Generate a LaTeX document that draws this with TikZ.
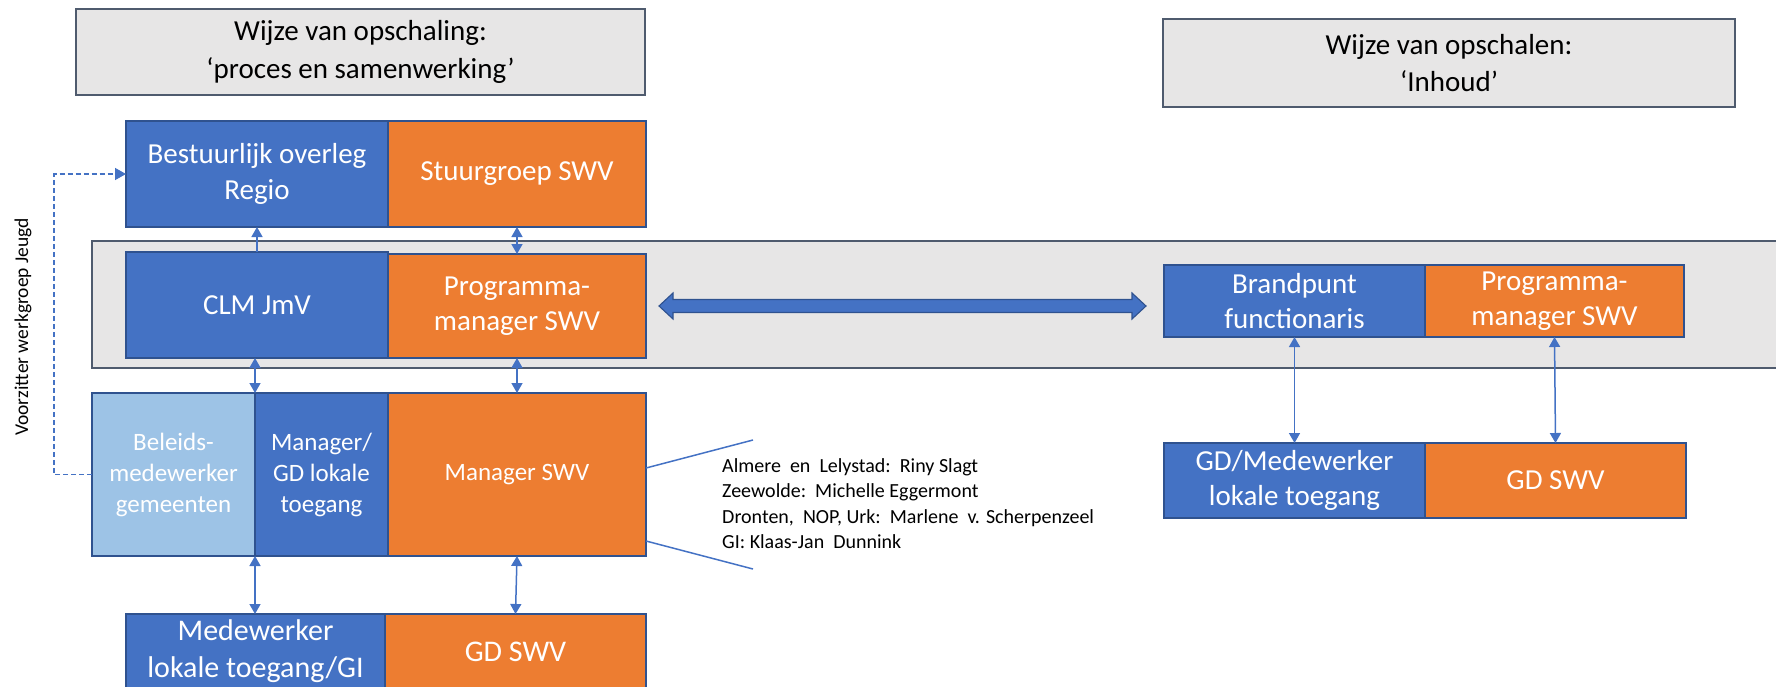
\documentclass[tikz,border=0pt]{standalone}
\usepackage{fontspec}
\setmainfont{Carlito}
\usetikzlibrary{arrows.meta,calc}
\definecolor{blu}{HTML}{4472C4}
\definecolor{org}{HTML}{ED7D31}
\definecolor{lbl}{HTML}{9DC3E6}
\definecolor{bord}{HTML}{2F528F}
\definecolor{gfill}{HTML}{E7E6E6}
\definecolor{slate}{HTML}{4F5B6E}
\begin{document}
\begin{tikzpicture}[x=1pt,y=-1pt,
  bx/.style={draw=bord, line width=1.3pt, text=white, align=center, inner sep=0pt, outer sep=0pt, anchor=north west},
  fbig/.style={font=\fontsize{29}{35.5}\selectfont},
  fmid/.style={font=\fontsize{25}{31}\selectfont},
  ttl/.style={draw=slate, fill=gfill, line width=1.3pt, text=black, align=center, inner sep=0pt, outer sep=0pt, anchor=north west},
  conn/.style={draw=blu, line width=1.5pt, {Triangle[length=10pt,width=11pt]}-{Triangle[length=10pt,width=11pt]}},
  conn1/.style={draw=blu, line width=1.5pt, -{Triangle[length=10pt,width=11pt]}},
  dashconn/.style={draw=blu, line width=1.4pt, dash pattern=on 5pt off 3pt, -{Triangle[length=11pt,width=12pt]}},
  callout/.style={draw=blu, line width=1.5pt},
  names/.style={anchor=base west, inner sep=0pt, text=black, font=\fontsize{20}{25}\selectfont}
]
\useasboundingbox (0,0) rectangle (1776,686);
\clip (0,0) rectangle (1776,686);

% titles
\node[ttl, minimum width=569, minimum height=86, font=\fontsize{29}{38}\selectfont] (tL) at (76,9) {Wijze van opschaling:\\‘proces en samenwerking’};
\node[ttl, minimum width=572, minimum height=88, font=\fontsize{29}{37}\selectfont] (tR) at (1163,19) {Wijze van opschalen:\\‘Inhoud’};

% grey band
\node[draw=slate, fill=gfill, line width=1.3pt, anchor=north west, minimum width=1720, minimum height=127, inner sep=0pt, outer sep=0pt] (band) at (92,241) {};

% top row
\node[bx, fbig, fill=blu, minimum width=262, minimum height=106] (Best) at (126,121) {Bestuurlijk overleg\\Regio};
\node[bx, fbig, fill=org, minimum width=258, minimum height=106] (Stuur) at (388,121) {Stuurgroep SWV};

% band row left
\node[bx, fbig, fill=blu, minimum width=262, minimum height=106] (CLM) at (126,252) {CLM JmV};
\node[bx, fbig, fill=org, minimum width=258, minimum height=104] (ProgL) at (388,254) {Programma-\\manager SWV};

% lower row left
\node[bx, fmid, fill=lbl, minimum width=163, minimum height=163] (Bel) at (92,393) {Beleids-\\medewerker\\gemeenten};
\node[bx, fmid, fill=blu, minimum width=133, minimum height=163] (MgrGD) at (255,393) {Manager/\\GD lokale\\toegang};
\node[bx, fmid, fill=org, minimum width=258, minimum height=163] (MgrSWV) at (388,393) {Manager SWV};

% bottom row left
\node[bx, fill=blu, minimum width=259, minimum height=75, font=\fontsize{30}{37}\selectfont] (Medew) at (126,614) {Medewerker\\lokale toegang/GI};
\node[bx, fill=org, minimum width=261, minimum height=75, font=\fontsize{30}{37}\selectfont] (GDL) at (385,614) {GD SWV};

% right side
\node[bx, fbig, fill=blu, minimum width=261, minimum height=72] (Brand) at (1164,265) {Brandpunt\\functionaris};
\node[bx, fbig, fill=org, minimum width=259, minimum height=72] (ProgR) at (1425,265) {Programma-\\manager SWV};
\node[bx, fbig, fill=blu, minimum width=261, minimum height=75] (GDMed) at (1164,443) {GD/Medewerker\\lokale toegang};
\node[bx, fbig, fill=org, minimum width=261, minimum height=75] (GDR) at (1425,443) {GD SWV};

% thin connectors
\draw[conn1] (CLM.north) -- (Best.south);
\draw[conn] (Stuur.south) -- (ProgL.north);
\draw[conn] (CLM.south -| Bel.east) -- (Bel.north east);
\draw[conn] (ProgL.south) -- (MgrSWV.north);
\draw[conn] (MgrGD.south west) -- (MgrGD.south west |- Medew.north);
\draw[conn] (MgrSWV.south) -- (GDL.north);
\draw[conn] (Brand.south) -- (GDMed.north);
\draw[conn] (ProgR.south) -- (GDR.north);

% dashed connector
\draw[dashconn] (Bel.west) -- ++(-38,0) |- (Best.west);
\node[rotate=90, inner sep=0pt, text=black, font=\fontsize{19.5}{23}\selectfont] (vz) at (23,327) {Voorzitter werkgroep Jeugd};

% big double block arrow
\coordinate (la) at ($(ProgL.east)+(13,0)$);
\coordinate (ra) at ($(Brand.west |- ProgL.east)+(-18,0)$);
\draw[fill=blu, draw=bord, line width=1.1pt] (la) -- ++(14,-13) -- ++(0,6.5) -- ($(ra)+(-14,-6.5)$) -- ++(0,-6.5) -- (ra) -- ++(-14,13) -- ++(0,-6.5) -- ($(la)+(14,6.5)$) -- ++(0,6.5) -- cycle;

% callout
\coordinate (c1) at (753,440);
\coordinate (c2) at (753,569);
\draw[callout] (MgrSWV.east |- 0,468) -- (c1);
\draw[callout] (MgrSWV.east |- 0,541) -- (c2);
\node[names] (n1) at (722,472) {Almere\ \ en\ \ Lelystad:\ \ Riny Slagt};
\node[names] (n2) at (722,497.5) {Zeewolde:\ \ Michelle Eggermont};
\node[names] (n3) at (722,523) {Dronten,\ \ NOP, Urk:\ \ Marlene\ \ v. Scherpenzeel};
\node[names] (n4) at (722,548.5) {GI: Klaas-Jan\ \ Dunnink};
\end{tikzpicture}
\end{document}
